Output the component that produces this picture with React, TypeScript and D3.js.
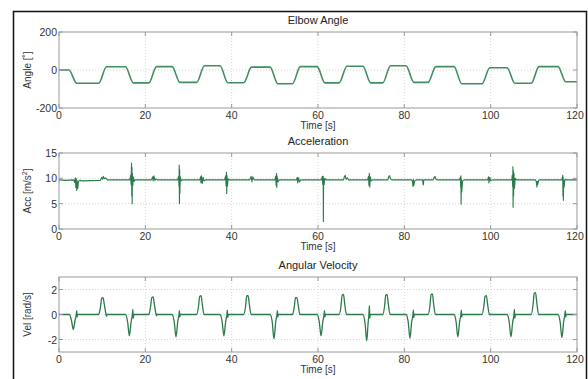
import React from 'react';
import * as d3 from 'd3';

// time axis (s)
const xTicks = [0, 20, 40, 60, 80, 100, 120];

// elbow angle breakpoints [t, deg]
const angle: [number, number][] = [
  [0, 0], [2.3, 0], [4.1, -70], [9.2, -70], [11.0, 17], [15.4, 17], [17.2, -68], [20.8, -68],
  [22.6, 18], [26.2, 18], [28.0, -65], [31.9, -65], [33.7, 22], [37.3, 22], [39.1, -67],
  [42.8, -67], [44.6, 15], [48.9, 15], [50.7, -72], [54.1, -72], [55.9, 18], [59.8, 18],
  [61.6, -68], [64.9, -68], [66.7, 20], [70.4, 20], [72.2, -68], [75.0, -68], [76.8, 22],
  [80.4, 22], [82.2, -65], [85.5, -65], [87.3, 18], [91.5, 18], [93.3, -72], [98.0, -72],
  [99.8, 12], [103.8, 12], [105.6, -70], [109.4, -70], [111.2, 18], [115.6, 18], [117.4, -62],
  [120, -62],
];
const angleTicks = [-200, 0, 200];

// acceleration [t, m/s^2]
const accel: [number, number][] = [
  [0, 9.7], [1.5, 9.6], [3.4, 9.7], [3.6, 9.2], [3.8, 10.1], [3.9, 8.2], [4.0, 9.9], [4.1, 7.6],
  [4.2, 9.5], [4.35, 8.0], [4.5, 9.4], [4.8, 9.6], [5.5, 9.5], [9.6, 9.6], [9.9, 10.2],
  [10.1, 9.8], [10.3, 10.4], [10.5, 9.9], [10.8, 10.1], [11.2, 9.7],
  [16.4, 9.7], [16.6, 10.6], [16.7, 8.8], [16.8, 13.0], [16.85, 6.5], [16.9, 12.2], [16.95, 5.0],
  [17.0, 11.0], [17.1, 8.6], [17.2, 10.3], [17.4, 9.4], [17.6, 9.7],
  [21.4, 9.7], [21.7, 10.3], [21.8, 9.5], [22.0, 10.5], [22.2, 9.6], [22.5, 9.9], [22.8, 9.7],
  [27.5, 9.7], [27.7, 10.4], [27.8, 8.5], [27.85, 12.6], [27.9, 5.0], [27.95, 11.8], [28.0, 7.0],
  [28.1, 10.3], [28.3, 9.5], [28.5, 9.7],
  [32.6, 9.7], [32.8, 10.3], [32.9, 9.1], [33.0, 10.5], [33.2, 9.0], [33.4, 10.2], [33.6, 9.5],
  [33.9, 9.7],
  [38.4, 9.7], [38.6, 10.5], [38.7, 8.6], [38.8, 11.2], [38.85, 7.0], [38.9, 10.6], [39.0, 8.4],
  [39.2, 9.9], [39.5, 9.7],
  [44.2, 9.7], [44.5, 10.4], [44.7, 9.3], [44.9, 10.3], [45.2, 9.7],
  [50.0, 9.7], [50.2, 10.4], [50.3, 8.6], [50.4, 11.0], [50.45, 8.2], [50.5, 10.5], [50.7, 9.3],
  [51.0, 9.7],
  [55.0, 9.7], [55.2, 10.2], [55.3, 9.1], [55.5, 10.1], [55.7, 9.3], [56.0, 9.7],
  [60.8, 9.7], [61.0, 10.4], [61.1, 8.8], [61.2, 10.4], [61.25, 1.5], [61.3, 10.0], [61.4, 8.7],
  [61.6, 10.0], [61.9, 9.7],
  [65.9, 9.7], [66.1, 10.3], [66.3, 10.6], [66.5, 9.8], [66.8, 10.1], [67.1, 9.7],
  [71.5, 9.7], [71.7, 10.4], [71.8, 8.6], [71.9, 11.0], [72.0, 8.3], [72.1, 10.3], [72.3, 9.5],
  [72.6, 9.7],
  [76.2, 9.7], [76.4, 10.4], [76.6, 10.5], [76.8, 9.9], [77.1, 9.7],
  [81.7, 9.7], [81.9, 9.3], [82.0, 8.4], [82.1, 9.8], [82.2, 8.6], [82.4, 9.5], [82.7, 9.7],
  [84.2, 9.7], [84.4, 8.7], [84.5, 9.7],
  [86.7, 9.7], [86.9, 10.2], [87.1, 10.4], [87.3, 9.8], [87.6, 9.7],
  [92.8, 9.7], [93.0, 10.3], [93.05, 8.3], [93.1, 10.5], [93.15, 4.9], [93.2, 9.9], [93.3, 7.3],
  [93.5, 9.5], [93.8, 9.7],
  [99.3, 9.7], [99.5, 10.3], [99.6, 9.1], [99.8, 10.2], [100.0, 9.5], [100.3, 9.7],
  [104.9, 9.7], [105.0, 10.6], [105.1, 8.4], [105.15, 12.3], [105.2, 4.3], [105.25, 11.6],
  [105.3, 6.5], [105.4, 11.0], [105.5, 8.0], [105.7, 10.0], [106.0, 9.7],
  [110.4, 9.7], [110.6, 9.2], [110.7, 8.3], [110.8, 9.4], [110.9, 8.8], [111.1, 9.6], [111.4, 9.7],
  [116.5, 9.7], [116.7, 10.6], [116.75, 6.5], [116.8, 10.2], [116.85, 5.7], [116.9, 9.6],
  [117.0, 8.2], [117.2, 9.8], [117.5, 9.7], [120, 9.7],
];
const accelTicks = [0, 5, 10, 15];

// angular velocity [t, rad/s]
const velocity: [number, number][] = [
  [0, 0], [2.4, 0], [2.9, -0.5], [3.3, -1.2], [3.7, -0.5], [4.0, 0], [4.1, 0.3], [4.2, -0.2], [4.3, 0],
  [9.2, 0], [9.6, 0.6], [9.9, 1.3], [10.2, 1.35], [10.5, 0.8], [10.9, 0], [11.0, -0.15], [11.1, 0],
  [15.4, 0], [15.9, -0.6], [16.3, -1.7], [16.7, -0.6], [17.0, 0], [17.1, 0.4], [17.2, -0.3], [17.35, 0],
  [20.8, 0], [21.2, 0.6], [21.5, 1.35], [21.8, 1.4], [22.1, 0.8], [22.5, 0], [22.6, -0.1], [22.7, 0],
  [26.2, 0], [26.7, -0.6], [27.1, -1.8], [27.5, -0.6], [27.8, 0], [27.9, 0.3], [28.0, -0.2], [28.1, 0],
  [31.9, 0], [32.3, 0.6], [32.6, 1.45], [32.9, 1.5], [33.2, 0.8], [33.6, 0],
  [37.3, 0], [37.8, -0.6], [38.2, -1.7], [38.6, -0.6], [38.9, 0], [39.0, 0.35], [39.1, -0.25], [39.2, 0],
  [42.8, 0], [43.2, 0.6], [43.5, 1.5], [43.8, 1.5], [44.1, 0.8], [44.5, 0],
  [48.9, 0], [49.4, -0.6], [49.8, -1.95], [50.2, -0.6], [50.5, 0], [50.6, 0.3], [50.7, -0.2], [50.8, 0],
  [54.1, 0], [54.5, 0.6], [54.8, 1.35], [55.1, 1.35], [55.4, 0.8], [55.8, 0],
  [59.8, 0], [60.3, -0.6], [60.7, -1.7], [61.1, -0.6], [61.4, 0], [61.5, 0.3], [61.6, -0.2], [61.7, 0],
  [64.9, 0], [65.3, 0.6], [65.6, 1.55], [65.9, 1.6], [66.2, 0.8], [66.6, 0],
  [70.4, 0], [70.9, -0.7], [71.3, -2.1], [71.6, -0.7], [71.8, 0], [71.9, 0.7], [72.0, -0.3], [72.1, 0],
  [75.0, 0], [75.4, 0.6], [75.7, 1.55], [76.0, 1.6], [76.3, 0.8], [76.7, 0],
  [80.4, 0], [80.9, -0.6], [81.3, -1.9], [81.7, -0.6], [82.0, 0], [82.1, 0.35], [82.2, -0.25], [82.3, 0],
  [85.5, 0], [85.9, 0.6], [86.2, 1.6], [86.5, 1.65], [86.8, 0.8], [87.2, 0],
  [91.5, 0], [92.0, -0.6], [92.4, -1.8], [92.8, -0.6], [93.1, 0], [93.2, 0.35], [93.3, -0.2], [93.4, 0],
  [98.0, 0], [98.4, 0.6], [98.7, 1.45], [99.0, 1.5], [99.3, 0.8], [99.7, 0],
  [103.8, 0], [104.3, -0.6], [104.7, -1.8], [105.1, -0.6], [105.4, 0], [105.5, 0.4], [105.6, -0.3], [105.7, 0],
  [109.4, 0], [109.8, 0.7], [110.1, 1.7], [110.4, 1.75], [110.7, 0.9], [111.1, 0],
  [115.6, 0], [116.1, -0.6], [116.5, -1.85], [116.9, -0.6], [117.2, 0], [117.3, 0.3], [117.4, -0.2], [117.5, 0],
  [120, 0],
];
const velocityTicks = [-2, 0, 2];

const FONT = 'Liberation Sans, Arial, sans-serif';
const LEFT = 59;
const RIGHT = 577;

type PanelProps = {
  title: string;
  yLabel: React.ReactNode;
  data: [number, number][];
  yDomain: [number, number];
  yTicks: number[];
  top: number;
  bottom: number;
  stroke: string;
  width: number;
  curve: d3.CurveFactory;
};

const Panel = ({ title, yLabel, data, yDomain, yTicks, top, bottom, stroke, width, curve }: PanelProps) => {
  const x = d3.scaleLinear().domain([0, 120]).range([LEFT, RIGHT]);
  const y = d3.scaleLinear().domain(yDomain).range([bottom, top]);
  const line = d3.line<[number, number]>().x(d => x(d[0])).y(d => y(d[1])).curve(curve);
  const midX = (LEFT + RIGHT) / 2;
  const clipId = 'clip-' + title.replace(/\s/g, '');

  return (
    <g fontFamily={FONT}>
      <defs>
        <clipPath id={clipId}>
          <rect x={LEFT} y={top} width={RIGHT - LEFT} height={bottom - top} />
        </clipPath>
      </defs>
      <rect x={LEFT} y={top} width={RIGHT - LEFT} height={bottom - top} fill="#fff" />
      {/* grid */}
      {xTicks.slice(1, -1).map(t => (
        <line key={'gx' + t} x1={x(t)} x2={x(t)} y1={top} y2={bottom}
          stroke="#c8c8c8" strokeWidth={0.8} strokeDasharray="1,2" />
      ))}
      {yTicks.filter(t => t > yDomain[0] && t < yDomain[1]).map(t => (
        <line key={'gy' + t} x1={LEFT} x2={RIGHT} y1={y(t)} y2={y(t)}
          stroke="#c8c8c8" strokeWidth={0.8} strokeDasharray="1,2" />
      ))}
      <path d={line(data) || ''} fill="none" stroke={stroke} strokeWidth={width}
        strokeLinejoin="round" clipPath={`url(#${clipId})`} />
      {/* box and inner ticks */}
      <rect x={LEFT} y={top} width={RIGHT - LEFT} height={bottom - top} fill="none" stroke="#9a9a9a" strokeWidth={1} />
      {xTicks.map(t => (
        <g key={'tx' + t}>
          <line x1={x(t)} x2={x(t)} y1={bottom} y2={bottom - 4} stroke="#9a9a9a" />
          <line x1={x(t)} x2={x(t)} y1={top} y2={top + 4} stroke="#9a9a9a" />
          <text x={x(t) + (t === 120 ? -2 : 0)} y={bottom + 11} fontSize={10.5} fill="#333"
            textAnchor={t === 0 ? 'start' : 'middle'} dx={t === 0 ? -3 : 0}>{t}</text>
        </g>
      ))}
      {yTicks.map(t => (
        <g key={'ty' + t}>
          <line x1={LEFT} x2={LEFT + 4} y1={y(t)} y2={y(t)} stroke="#9a9a9a" />
          <line x1={RIGHT} x2={RIGHT - 4} y1={y(t)} y2={y(t)} stroke="#9a9a9a" />
          <text x={LEFT - 2} y={y(t) + 4} fontSize={10.5} fill="#333" textAnchor="end">{t}</text>
        </g>
      ))}
      <text x={midX} y={top - 8} fontSize={11} fill="#222" textAnchor="middle">{title}</text>
      <text x={midX} y={bottom + 21} fontSize={10} fill="#333" textAnchor="middle">Time [s]</text>
      <text transform={`translate(31,${(top + bottom) / 2}) rotate(-90)`} fontSize={10} fill="#333"
        textAnchor="middle">{yLabel}</text>
    </g>
  );
};

export default function App() {
  return (
    <div style={{ position: 'absolute', left: 0, top: 0 }}>
      <svg width={588} height={379} style={{ display: 'block', background: '#fff' }}>
        <rect x={0} y={0} width={588} height={379} fill="#fff" />
        <path d="M13.5,379 V11.5 H586.5 V379" fill="none" stroke="#111" strokeWidth={1.5} />
        <Panel title="Elbow Angle" yLabel="Angle [˚]" data={angle} yDomain={[-200, 200]}
          yTicks={angleTicks} top={32} bottom={108} stroke="#3f8f5f" width={1.6} curve={d3.curveMonotoneX} />
        <Panel title="Acceleration"
          yLabel={<>Acc [m/s<tspan dy={-4} fontSize={7}>2</tspan><tspan dy={4}>]</tspan></>}
          data={accel} yDomain={[0, 15]} yTicks={accelTicks} top={153} bottom={229}
          stroke="#2a7a4a" width={1.1} curve={d3.curveLinear} />
        <Panel title="Angular Velocity" yLabel="Vel [rad/s]" data={velocity} yDomain={[-3, 3]}
          yTicks={velocityTicks} top={277} bottom={352} stroke="#2a7a4a" width={1.3} curve={d3.curveMonotoneX} />
      </svg>
    </div>
  );
}
